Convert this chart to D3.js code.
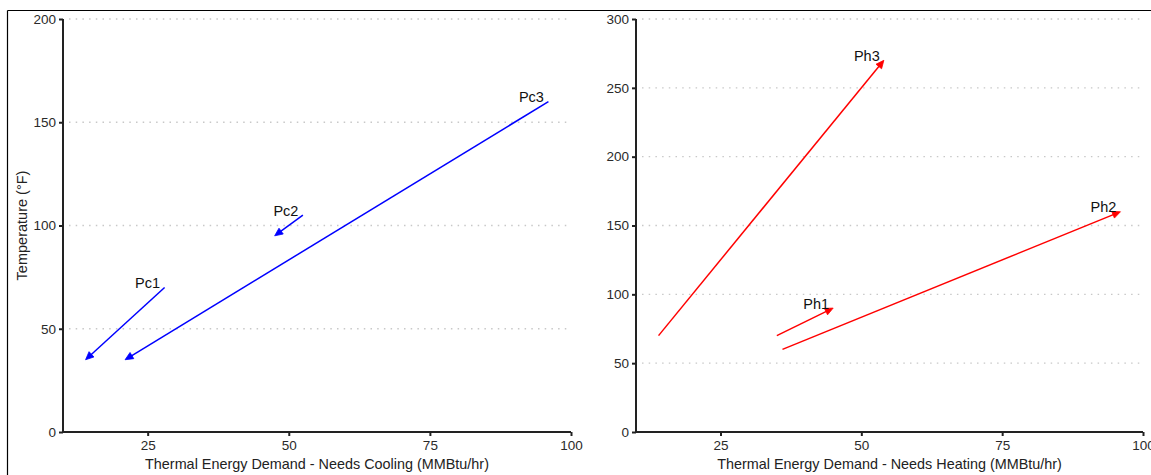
<!DOCTYPE html>
<html>
<head>
<meta charset="utf-8">
<script src="https://cdn.jsdelivr.net/npm/d3@7"></script>
<style>
  html, body { margin: 0; padding: 0; background: #fff; }
  svg { display: block; font-family: "Liberation Sans", Arial, sans-serif; }
</style>
</head>
<body>
<svg id="chart" width="1151" height="475"></svg>
<script>
// ---- data ----
const coolingNames = ["Pc1", "Pc2", "Pc3"];
const coolingX0 = [28, 52.5, 96];
const coolingY0 = [70, 105, 160];
const coolingX1 = [14, 47.5, 21];
const coolingY1 = [35, 95, 35];

const heatingNames = ["Ph1", "Ph2", "Ph3"];
const heatingX0 = [35, 36, 14];
const heatingY0 = [70, 60, 70];
const heatingX1 = [45, 96, 54];
const heatingY1 = [90, 160, 270];

const xTicks = [25, 50, 75, 100];
const coolingYTicks = [0, 50, 100, 150, 200];
const heatingYTicks = [0, 50, 100, 150, 200, 250, 300];

const svg = d3.select("#chart");

// outer frame (top and left edges visible)
svg.append("line").attr("x1", 7.5).attr("x2", 1151).attr("y1", 10.5).attr("y2", 10.5)
  .attr("stroke", "#000").attr("stroke-width", 1.2);
svg.append("line").attr("x1", 7.5).attr("x2", 7.5).attr("y1", 10.5).attr("y2", 475)
  .attr("stroke", "#000").attr("stroke-width", 1.2);

function panel(opts) {
  const x = d3.scaleLinear().domain([10, 100]).range([opts.left, opts.right]);
  const y = d3.scaleLinear().domain([0, opts.yMax]).range([opts.bottom, opts.top]);
  const g = svg.append("g");

  // grid lines (dotted)
  g.append("g").selectAll("line").data(opts.yTicks.filter(v => v > 0)).join("line")
    .attr("x1", opts.left + 6).attr("x2", opts.right)
    .attr("y1", d => y(d)).attr("y2", d => y(d))
    .attr("stroke", "#c8c8c8").attr("stroke-width", 1.4)
    .attr("stroke-dasharray", "1.5,5.2");

  // axes
  const ax = g.append("g").attr("transform", `translate(0,${opts.bottom})`)
    .call(d3.axisBottom(x).tickValues(xTicks).tickSize(4).tickPadding(4));
  const ay = g.append("g").attr("transform", `translate(${opts.left},0)`)
    .call(d3.axisLeft(y).tickValues(opts.yTicks).tickSize(4).tickPadding(3));
  [ax, ay].forEach(a => {
    a.select(".domain").attr("stroke", "#222").attr("stroke-width", 2);
    a.selectAll(".tick line").attr("stroke", "#222").attr("stroke-width", 2);
    a.selectAll(".tick text").attr("fill", "#2a2a2a").style("font-size", "13.5px")
      .style("font-family", '"Liberation Sans", Arial, sans-serif');
  });
  // make domain paths plain lines without outer ticks
  ax.select(".domain").attr("d", `M${opts.left},0H${opts.right}`);
  ay.select(".domain").attr("d", `M0,${opts.bottom}V${opts.top}`);

  // x title
  g.append("text").attr("x", (opts.left + opts.right) / 2).attr("y", opts.bottom + 37)
    .attr("text-anchor", "middle").attr("fill", "#222").style("font-size", "14.4px")
    .text(opts.xTitle);
  if (opts.yTitle) {
    g.append("text")
      .attr("transform", `translate(${opts.left - 36},${(opts.top + opts.bottom) / 2}) rotate(-90)`)
      .attr("text-anchor", "middle").attr("fill", "#222").style("font-size", "14.5px")
      .text(opts.yTitle);
  }

  // arrows
  const idx = d3.range(opts.names.length);
  const headLen = 8, headHalf = 3.6;
  idx.forEach(i => {
    const px0 = x(opts.x0[i]), py0 = y(opts.y0[i]);
    const px1 = x(opts.x1[i]), py1 = y(opts.y1[i]);
    const dx = px1 - px0, dy = py1 - py0, L = Math.hypot(dx, dy);
    const ux = dx / L, uy = dy / L;
    const bx = px1 - ux * headLen, by = py1 - uy * headLen;
    g.append("line").attr("x1", px0).attr("y1", py0).attr("x2", bx + ux * 1).attr("y2", by + uy * 1)
      .attr("stroke", opts.color).attr("stroke-width", 1.5);
    g.append("polygon")
      .attr("points", [[px1, py1], [bx - uy * headHalf, by + ux * headHalf], [bx + uy * headHalf, by - ux * headHalf]]
        .map(p => p.join(",")).join(" "))
      .attr("fill", opts.color).attr("stroke", opts.color).attr("stroke-width", 0.8);
    // label at the hotter end
    const hot = opts.y0[i] >= opts.y1[i] ? [px0, py0] : [px1, py1];
    g.append("text").attr("x", hot[0] - 17).attr("y", hot[1] + 0.5)
      .attr("text-anchor", "middle").attr("fill", "#111").style("font-size", "14.5px")
      .text(opts.names[i]);
  });
}

panel({
  left: 63, right: 571, top: 19, bottom: 432, yMax: 200,
  yTicks: coolingYTicks, names: coolingNames,
  x0: coolingX0, y0: coolingY0, x1: coolingX1, y1: coolingY1,
  color: "#0000ff",
  xTitle: "Thermal Energy Demand - Needs Cooling (MMBtu/hr)",
  yTitle: "Temperature (°F)"
});
panel({
  left: 636, right: 1143, top: 19, bottom: 432, yMax: 300,
  yTicks: heatingYTicks, names: heatingNames,
  x0: heatingX0, y0: heatingY0, x1: heatingX1, y1: heatingY1,
  color: "#ff0000",
  xTitle: "Thermal Energy Demand - Needs Heating (MMBtu/hr)"
});
</script>
</body>
</html>
